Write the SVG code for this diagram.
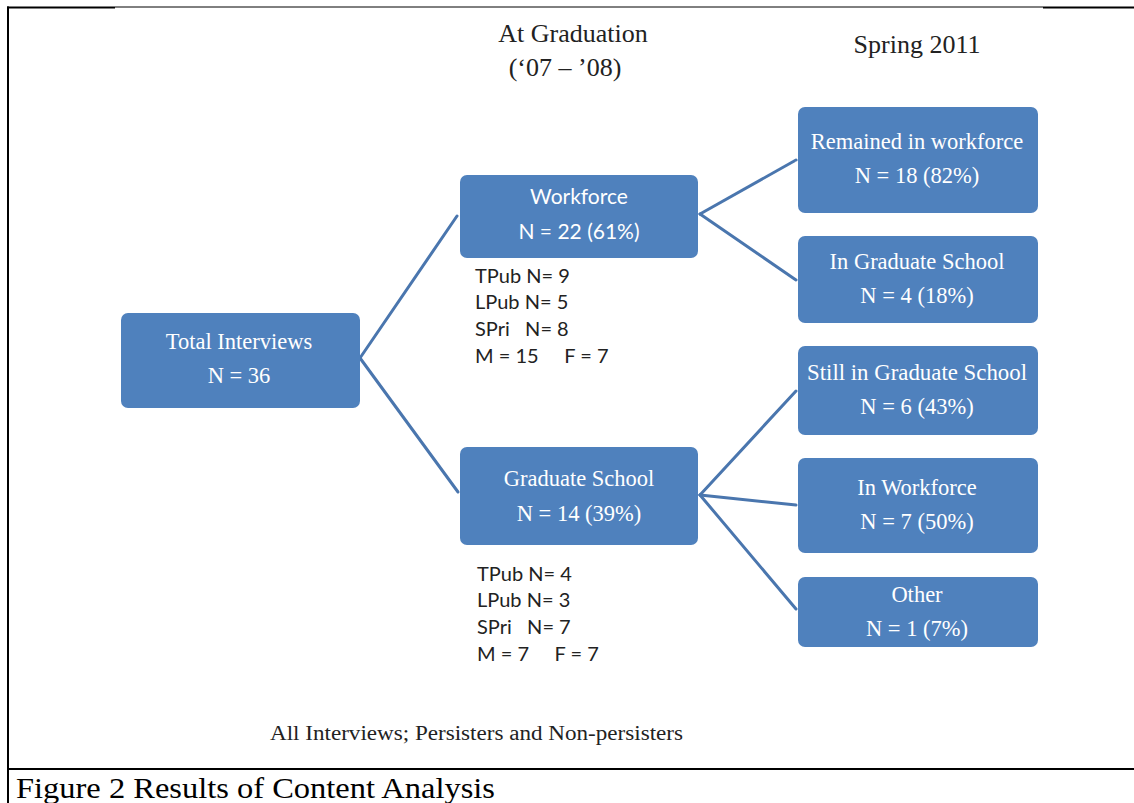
<svg xmlns="http://www.w3.org/2000/svg" width="1134" height="803" viewBox="0 0 1134 803">
<style>
.node{fill:#4F81BD;}
.serif{font-family:"Liberation Serif","Times New Roman",serif;fill:#fff;font-size:22.5px;text-anchor:middle;}
.sans{font-family:Lato,"Liberation Sans",sans-serif;fill:#fff;font-size:21px;text-anchor:middle;}
.stat{font-family:Lato,"Liberation Sans",sans-serif;fill:#222;font-size:20px;}
.head{font-family:"Liberation Serif","Times New Roman",serif;fill:#222;font-size:26px;text-anchor:middle;}
.conn{stroke:#4A76AE;stroke-width:3;fill:none;stroke-linecap:round;}
</style>
<rect x="0" y="0" width="1134" height="803" fill="#fff"/>
<g id="frame">
<line x1="7" y1="7.5" x2="115" y2="7.5" stroke="#000" stroke-width="2"/>
<line x1="115" y1="7" x2="1043" y2="7" stroke="#000" stroke-width="1"/>
<line x1="1043" y1="7.5" x2="1134" y2="7.5" stroke="#000" stroke-width="2"/>
<line x1="8" y1="6.5" x2="8" y2="803" stroke="#000" stroke-width="2"/>
<line x1="7" y1="769" x2="1134" y2="769" stroke="#000" stroke-width="2"/>
</g>
<text class="head" x="573" y="42">At Graduation</text>
<text class="head" x="565" y="76">(‘07 – ’08)</text>
<text class="head" x="917" y="53">Spring 2011</text>
<g id="connectors">
<line class="conn" x1="360" y1="358" x2="457" y2="216"/>
<line class="conn" x1="360" y1="358" x2="458" y2="492"/>
<line class="conn" x1="700" y1="214" x2="796" y2="160"/>
<line class="conn" x1="700" y1="214" x2="796" y2="280"/>
<line class="conn" x1="700" y1="495" x2="796" y2="391"/>
<line class="conn" x1="700" y1="495" x2="796" y2="505"/>
<line class="conn" x1="700" y1="495" x2="796" y2="609"/>
</g>
<g id="total">
<rect class="node" x="121" y="313" width="239" height="95" rx="7"/>
<text class="serif" x="239" y="349">Total Interviews</text>
<text class="serif" x="239" y="383">N = 36</text>
</g>
<g id="workforce">
<rect class="node" x="460" y="175" width="238" height="83" rx="7"/>
<text class="sans" x="579" y="204">Workforce</text>
<text class="sans" x="579" y="239">N = 22 (61%)</text>
</g>
<g id="workforce-stats">
<text class="stat" x="475" y="283">TPub N= 9</text>
<text class="stat" x="475" y="309">LPub N= 5</text>
<text class="stat" x="475" y="336" xml:space="preserve">SPri   N= 8</text>
<text class="stat" x="475" y="363" xml:space="preserve">M = 15     F = 7</text>
</g>
<g id="gradschool">
<rect class="node" x="460" y="447" width="238" height="98" rx="7"/>
<text class="serif" x="579" y="486">Graduate School</text>
<text class="serif" x="579" y="521">N = 14 (39%)</text>
</g>
<g id="gradschool-stats">
<text class="stat" x="477" y="581">TPub N= 4</text>
<text class="stat" x="477" y="607">LPub N= 3</text>
<text class="stat" x="477" y="634" xml:space="preserve">SPri   N= 7</text>
<text class="stat" x="477" y="661" xml:space="preserve">M = 7     F = 7</text>
</g>
<g id="remained">
<rect class="node" x="798" y="107" width="240" height="106" rx="7"/>
<text class="serif" x="917" y="149">Remained in workforce</text>
<text class="serif" x="917" y="183">N = 18 (82%)</text>
</g>
<g id="ingrad">
<rect class="node" x="798" y="236" width="240" height="87" rx="7"/>
<text class="serif" x="917" y="269">In Graduate School</text>
<text class="serif" x="917" y="303">N = 4 (18%)</text>
</g>
<g id="stillgrad">
<rect class="node" x="798" y="346" width="240" height="89" rx="7"/>
<text class="serif" x="917" y="380" textLength="220" lengthAdjust="spacingAndGlyphs">Still in Graduate School</text>
<text class="serif" x="917" y="414">N = 6 (43%)</text>
</g>
<g id="inworkforce">
<rect class="node" x="798" y="458" width="240" height="95" rx="7"/>
<text class="serif" x="917" y="495">In Workforce</text>
<text class="serif" x="917" y="529">N = 7 (50%)</text>
</g>
<g id="other">
<rect class="node" x="798" y="577" width="240" height="70" rx="7"/>
<text class="serif" x="917" y="602">Other</text>
<text class="serif" x="917" y="636">N = 1 (7%)</text>
</g>
<text x="270" y="740" font-family="'Liberation Serif','Times New Roman',serif" font-size="20" fill="#222" textLength="413" lengthAdjust="spacingAndGlyphs">All Interviews; Persisters and Non-persisters</text>
<text x="16" y="798" font-family="'Liberation Serif','Times New Roman',serif" font-size="29" fill="#000" textLength="479" lengthAdjust="spacingAndGlyphs">Figure 2 Results of Content Analysis</text>
</svg>
